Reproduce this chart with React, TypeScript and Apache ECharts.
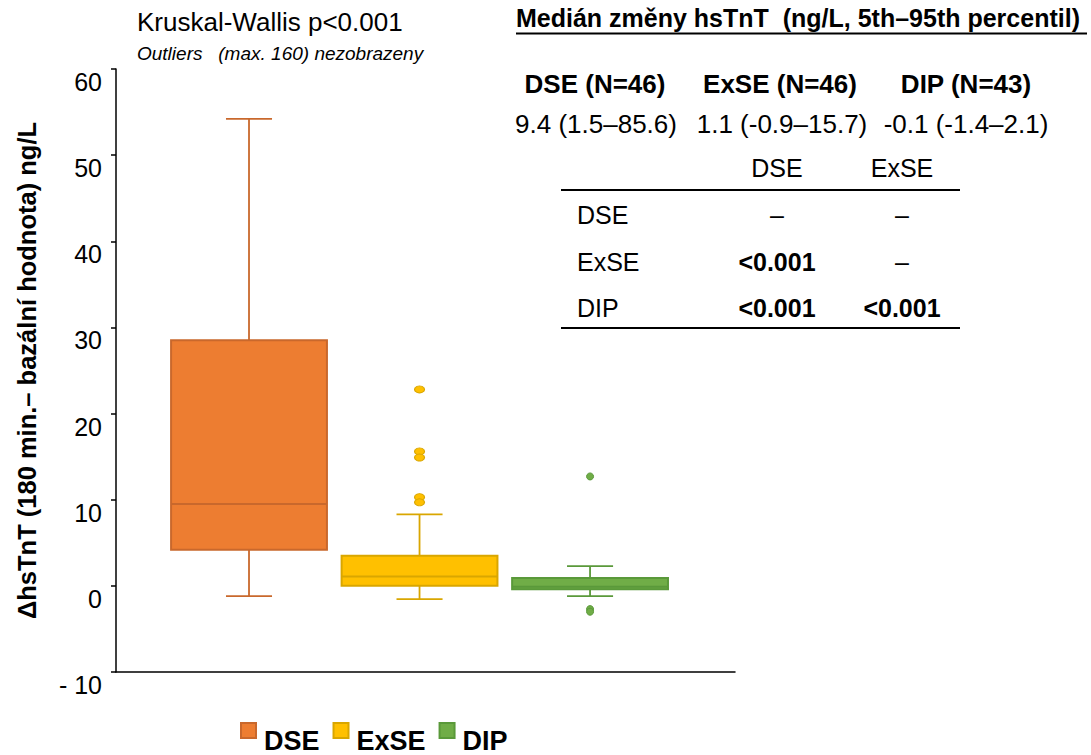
import React, { useEffect, useRef } from "react";
import * as echarts from "echarts";

const categories = ["DSE", "ExSE", "DIP"];
// [index, min(whisker), Q1, median, Q3, max(whisker)]
const boxValues = [
  [0, -1.2, 4.2, 9.5, 28.5, 54.2],
  [1, -1.55, 0.0, 1.1, 3.5, 8.3],
  [2, -1.2, -0.4, -0.1, 0.9, 2.3],
];
const outliersExSE = [22.8, 15.6, 14.9, 10.3, 9.7];
const outliersDIP = [12.7, -2.7, -3.0];
const outliersDSE: number[] = [];
const yTicks = { min: -10, max: 60, interval: 10 };

const fills = ["#ED7D31", "#FFC000", "#70AD47"];
const strokes = ["#C9682C", "#D9A600", "#5A993A"];

const headerTitle = "Medián změny hsTnT  (ng/L, 5th–95th percentil)";
const groupHeaders = ["DSE (N=46)", "ExSE (N=46)", "DIP (N=43)"];
const groupMedians = ["9.4 (1.5–85.6)", "1.1 (-0.9–15.7)", "-0.1 (-1.4–2.1)"];
const tableCols = ["DSE", "ExSE"];
const tableRows = ["DSE", "ExSE", "DIP"];
const tableCells = [
  ["–", "–"],
  ["<0.001", "–"],
  ["<0.001", "<0.001"],
];

const FONT = "'Liberation Sans', Arial, sans-serif";

export default function App() {
  const ref = useRef<HTMLDivElement>(null);
  useEffect(() => {
    const chart = echarts.init(ref.current!, null, { renderer: "svg" });

    const graphic: any[] = [];
    graphic.push({
      type: "text",
      x: 137,
      y: 22,
      style: { text: "Kruskal-Wallis p<0.001", font: `26px ${FONT}`, fill: "#000", textVerticalAlign: "middle" },
    });
    graphic.push({
      type: "text",
      x: 137,
      y: 53,
      style: { text: "Outliers   (max. 160) nezobrazeny", font: `italic 19px ${FONT}`, fill: "#000", textVerticalAlign: "middle" },
    });
    graphic.push({
      type: "text",
      x: 516,
      y: 18,
      style: { text: headerTitle, font: `bold 25px ${FONT}`, fill: "#000", textVerticalAlign: "middle" },
    });
    graphic.push({
      type: "line",
      shape: { x1: 516, y1: 33.5, x2: 1087, y2: 33.5 },
      style: { stroke: "#000", lineWidth: 2 },
    });
    const headerX = [595, 780, 966];
    groupHeaders.forEach((t, i) => {
      graphic.push({
        type: "text",
        x: headerX[i],
        y: 84,
        style: { text: t, font: `bold 26px ${FONT}`, fill: "#000", textAlign: "center", textVerticalAlign: "middle" },
      });
    });
    const medX = [596, 782, 966];
    groupMedians.forEach((t, i) => {
      graphic.push({
        type: "text",
        x: medX[i],
        y: 124,
        style: { text: t, font: `26px ${FONT}`, fill: "#000", textAlign: "center", textVerticalAlign: "middle" },
      });
    });
    const colX = [777, 902];
    tableCols.forEach((t, i) => {
      graphic.push({
        type: "text",
        x: colX[i],
        y: 168,
        style: { text: t, font: `25px ${FONT}`, fill: "#000", textAlign: "center", textVerticalAlign: "middle" },
      });
    });
    graphic.push({ type: "line", shape: { x1: 561, y1: 190, x2: 960, y2: 190 }, style: { stroke: "#000", lineWidth: 2 } });
    graphic.push({ type: "line", shape: { x1: 561, y1: 328, x2: 960, y2: 328 }, style: { stroke: "#000", lineWidth: 2 } });
    const rowY = [215, 262, 308];
    tableRows.forEach((r, ri) => {
      graphic.push({
        type: "text",
        x: 577,
        y: rowY[ri],
        style: { text: r, font: `25px ${FONT}`, fill: "#000", textVerticalAlign: "middle" },
      });
      tableCells[ri].forEach((c, ci) => {
        const bold = c !== "–";
        graphic.push({
          type: "text",
          x: colX[ci],
          y: rowY[ri],
          style: {
            text: c,
            font: `${bold ? "bold " : ""}25px ${FONT}`,
            fill: "#000",
            textAlign: "center",
            textVerticalAlign: "middle",
          },
        });
      });
    });

    const outlierSeries = [outliersDSE, outliersExSE, outliersDIP].map((arr, i) => ({
      name: categories[i],
      type: "scatter",
      data: arr.map((v) => [i, v]),
      symbol: "circle",
      symbolSize: i === 2 ? [7, 7] : [10, 7],
      itemStyle: { color: fills[i], borderColor: strokes[i], borderWidth: 1, opacity: 1 },
      z: 5,
    }));

    const option: any = {
      animation: false,
      textStyle: { fontFamily: FONT },
      grid: { left: 116, right: 356, top: 69, bottom: 83 },
      xAxis: {
        type: "value",
        min: -0.78,
        max: 2.85,
        axisLine: { show: true, onZero: false, lineStyle: { color: "#000", width: 1.5 } },
        axisTick: { show: false },
        axisLabel: { show: false },
        splitLine: { show: false },
      },
      yAxis: {
        type: "value",
        min: yTicks.min,
        max: yTicks.max,
        interval: yTicks.interval,
        name: "ΔhsTnT (180 min.– bazální hodnota) ng/L",
        nameLocation: "middle",
        nameGap: 76,
        nameRotate: 90,
        nameTextStyle: { fontSize: 25.5, fontWeight: "bold", color: "#000", fontFamily: FONT },
        axisLine: { show: true, onZero: false, lineStyle: { color: "#000", width: 1.5 } },
        axisTick: { show: true, length: 5, lineStyle: { color: "#000", width: 1.5 } },
        axisLabel: {
          fontSize: 25,
          color: "#000",
          fontFamily: FONT,
          margin: 14,
          verticalAlign: "top",
          lineHeight: 26,
          formatter: (v: number) => (v === -10 ? "- 10" : String(v)),
        },
        splitLine: { show: false },
      },
      legend: {
        data: categories,
        left: 240,
        top: 722,
        padding: 0,
        icon: "rect",
        itemWidth: 15,
        itemHeight: 15,
        itemGap: 13,
        itemStyle: { opacity: 1 },
        formatter: "{t|{name}}",
        textStyle: {
          fontSize: 27,
          fontWeight: "bold",
          color: "#000",
          fontFamily: FONT,
          rich: {
            t: { fontSize: 27, fontWeight: "bold", color: "#000", fontFamily: FONT, padding: [20, 0, 0, 3] },
          },
        },
      },
      graphic,
      series: [
        {
          type: "custom",
          data: boxValues,
          encode: { x: 0, y: [1, 2, 3, 4, 5] },
          z: 3,
          renderItem: (params: any, api: any) => {
            const i = api.value(0);
            const x = api.coord([i, 0])[0];
            const y = (d: number) => api.coord([i, api.value(d)])[1];
            const band = api.size([1, 0])[0];
            const half = band * 0.457;
            const cap = band * 0.135;
            const yMin = y(1), yQ1 = y(2), yMed = y(3), yQ3 = y(4), yMax = y(5);
            const c = strokes[i];
            const ls = { stroke: c, lineWidth: 1.8 };
            return {
              type: "group",
              children: [
                { type: "line", shape: { x1: x, y1: yMax, x2: x, y2: yQ3 }, style: ls },
                { type: "line", shape: { x1: x, y1: yQ1, x2: x, y2: yMin }, style: ls },
                { type: "line", shape: { x1: x - cap, y1: yMin, x2: x + cap, y2: yMin }, style: ls },
                { type: "line", shape: { x1: x - cap, y1: yMax, x2: x + cap, y2: yMax }, style: ls },
                {
                  type: "rect",
                  shape: { x: x - half, y: yQ3, width: half * 2, height: yQ1 - yQ3 },
                  style: { fill: fills[i], stroke: c, lineWidth: 2 },
                },
                { type: "line", shape: { x1: x - half, y1: yMed, x2: x + half, y2: yMed }, style: { stroke: c, lineWidth: 2 } },
              ],
            };
          },
        },
        ...outlierSeries,
      ],
    };
    chart.setOption(option);
    return () => chart.dispose();
  }, []);
  return <div ref={ref} style={{ position: "fixed", left: 0, top: 0, width: 1091, height: 755, background: "#fff" }} />;
}
